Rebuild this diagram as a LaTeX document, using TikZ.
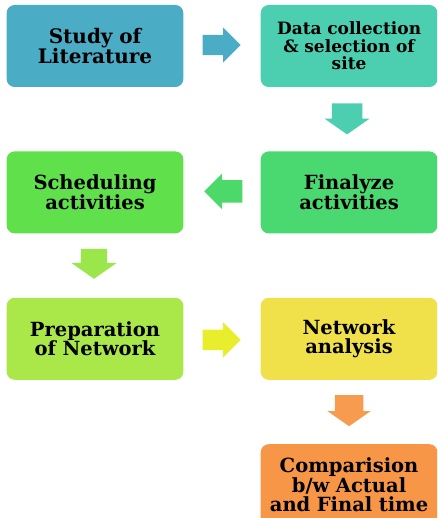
\documentclass[tikz,border=0pt]{standalone}
\usepackage{fontspec}
\setmainfont{DejaVu Serif}
\usepackage{xcolor}
\usetikzlibrary{positioning,shapes.arrows,calc}

\definecolor{cBlue}{RGB}{75,172,198}
\definecolor{cTeal}{RGB}{75,207,176}
\definecolor{cGreenA}{RGB}{74,216,112}
\definecolor{cGreenB}{RGB}{96,224,74}
\definecolor{cLime}{RGB}{170,232,74}
\definecolor{cYellow}{RGB}{240,224,74}
\definecolor{cOrange}{RGB}{247,150,70}

\tikzset{
  stepbox/.style={rectangle, rounded corners=8pt, draw=none,
    minimum width=174pt, minimum height=82pt, text width=170pt,
    align=center, font=\fontsize{19.5}{19.5}\selectfont\bfseries},
  flowarrow/.style={single arrow, draw=none, inner xsep=0pt, inner ysep=10pt,
    single arrow head extend=7.5pt, minimum height=38pt, anchor=tail},
  droparrow/.style={single arrow, draw=none, inner xsep=14pt, inner ysep=0pt,
    shape border rotate=270, single arrow tip angle=110,
    single arrow head extend=7.5pt, minimum height=31pt, anchor=tail}
}

\begin{document}
\begin{tikzpicture}[x=1pt,y=1pt,yscale=-1,node distance=64pt and 77pt]
\clip (0,0) rectangle (437,518);

%Rounded Rect [lit] 
\node [stepbox, fill=cBlue, font=\fontsize{20}{20}\selectfont\bfseries] (lit) at (95,46) {Study of\\Literature};
%Rounded Rect [data] 
\node [stepbox, fill=cTeal, font=\fontsize{17}{17.5}\selectfont\bfseries, right=of lit] (data) {Data collection\\\& selection of\\site};
%Rounded Rect [final] 
\node [stepbox, fill=cGreenA, below=of data] (final) {Finalyze\\activities};
%Rounded Rect [sched] 
\node [stepbox, fill=cGreenB, below=of lit] (sched) {Scheduling\\activities};
%Rounded Rect [prep] 
\node [stepbox, fill=cLime, below=of sched] (prep) {Preparation\\of Network};
%Rounded Rect [anal] 
\node [stepbox, fill=cYellow, below=of final] (anal) {Network\\analysis};
%Rounded Rect [comp] 
\node [stepbox, fill=cOrange, below=of anal] (comp) {Comparision\\b/w Actual\\and Final time};

%Shape: Right Arrow 
\node [flowarrow, fill=cBlue] (a1) at ($(lit.east)+(19,-1)$) {};
%Shape: Down Arrow 
\node [droparrow, fill=cTeal, inner xsep=15pt] (a2) at ($(data.south)+(-2,16)$) {};
%Shape: Left Arrow 
\node [flowarrow, fill=cGreenA!85!cGreenB, inner ysep=11pt, single arrow head extend=6.5pt, shape border rotate=180] (a3) at ($(final.west)+(-18,-1)$) {};
%Shape: Down Arrow 
\node [droparrow, fill=cLime!80!cGreenB, inner xsep=13pt, single arrow head extend=9.5pt, minimum height=30pt] (a4) at ($(sched.south)+(-1,15)$) {};
%Shape: Right Arrow 
\node [flowarrow, fill=cYellow!70!cLime!60!yellow] (a5) at ($(prep.east)+(19,1)$) {};
%Shape: Down Arrow 
\node [droparrow, fill=cOrange!95!white] (a6) at ($(anal.south)+(0,15)$) {};

\end{tikzpicture}
\end{document}
